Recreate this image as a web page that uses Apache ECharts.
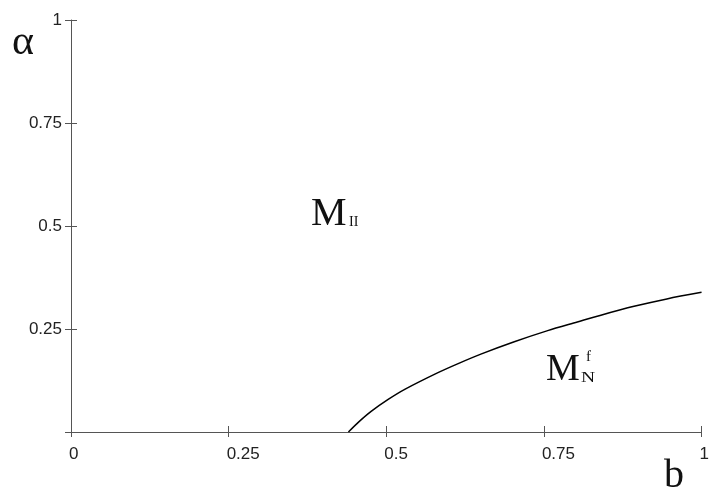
<!DOCTYPE html>
<html>
<head>
<meta charset="utf-8">
<script src="https://cdn.jsdelivr.net/npm/echarts@6/dist/echarts.min.js"></script>
<style>html,body{margin:0;padding:0;background:#fff}#c{width:712px;height:494px}</style>
</head>
<body>
<div id="c"></div>
<script>
const xTicks = [0, 0.25, 0.5, 0.75, 1];
const yTicks = [0, 0.25, 0.5, 0.75, 1];
const curveB = [0.440, 0.456, 0.476, 0.503, 0.530, 0.582, 0.614, 0.650, 0.703, 0.756, 0.803, 0.839, 0.893, 0.945, 1.0];
const curveAlpha = [0.0, 0.024, 0.050, 0.079, 0.104, 0.144, 0.166, 0.189, 0.219, 0.246, 0.267, 0.283, 0.305, 0.323, 0.339];

const axisColor = '#555';
const chart = echarts.init(document.getElementById('c'), null, {renderer: 'canvas'});
const serif = '"Liberation Serif", "DejaVu Serif", serif';
const sans = '"Liberation Sans", Arial, sans-serif';

const option = {
  animation: false,
  backgroundColor: '#fff',
  grid: {left: 71, right: 7, top: 20, bottom: 62, containLabel: false},
  xAxis: [
    {
      type: 'value', min: 0, max: 1, interval: 0.25,
      axisLine: {show: true, onZero: false, lineStyle: {color: axisColor, width: 1}},
      axisTick: {show: true, inside: false, length: 5, lineStyle: {color: axisColor}},
      axisLabel: {show: true, margin: 14, align: 'left', color: '#222', fontSize: 17,
        fontFamily: sans, padding: [0, 0, 0, -2],
        formatter: v => xTicks.includes(v) ? (v === 0 ? '0' : String(v)) : ''},
      splitLine: {show: false}
    },
    {
      type: 'value', min: 0, max: 1, interval: 0.25, position: 'bottom',
      axisLine: {show: false},
      axisTick: {show: true, inside: true, length: 6, lineStyle: {color: axisColor}},
      axisLabel: {show: false}, splitLine: {show: false}
    }
  ],
  yAxis: [
    {
      type: 'value', min: 0, max: 1, interval: 0.25,
      axisLine: {show: true, onZero: false, lineStyle: {color: axisColor, width: 1}},
      axisTick: {show: true, inside: false, length: 6, lineStyle: {color: axisColor}},
      axisLabel: {show: true, margin: 9, color: '#222', fontSize: 17,
        fontFamily: sans, padding: [8, 0, 0, 0],
        formatter: v => (v === 0 || !yTicks.includes(v) ? '' : String(v))},
      splitLine: {show: false}
    },
    {
      type: 'value', min: 0, max: 1, interval: 0.25, position: 'left',
      axisLine: {show: false},
      axisTick: {show: true, inside: true, length: 6, lineStyle: {color: axisColor}},
      axisLabel: {show: false}, splitLine: {show: false}
    }
  ],
  series: [{
    type: 'line',
    data: curveB.map((b, i) => [b, curveAlpha[i]]),
    smooth: 0.3,
    showSymbol: false,
    lineStyle: {color: '#000', width: 1.5},
    z: 3
  }],
  graphic: [
    {type: 'text', x: 12, y: 43, style: {text: 'α', font: '42px ' + serif, fill: '#111', verticalAlign: 'middle'}},
    {type: 'text', x: 664, y: 476, style: {text: 'b', font: '40px ' + serif, fill: '#111', verticalAlign: 'middle'}},
    {type: 'text', x: 311, y: 214, style: {text: 'M', font: '40px ' + serif, fill: '#111', verticalAlign: 'middle'}},
    {type: 'text', x: 349, y: 222, style: {text: 'II', font: '14px ' + serif, fill: '#111', verticalAlign: 'middle'}},
    {type: 'text', x: 546, y: 370, style: {text: 'M', font: '38px ' + serif, fill: '#111', verticalAlign: 'middle'}},
    {type: 'text', x: 581, y: 386, scaleX: 1.3, style: {text: 'N', font: '15px ' + serif, fill: '#111', verticalAlign: 'bottom'}},
    {type: 'text', x: 586, y: 357, style: {text: 'f', font: '15px ' + serif, fill: '#111', verticalAlign: 'middle'}}
  ]
};
chart.setOption(option);
</script>
</body>
</html>
